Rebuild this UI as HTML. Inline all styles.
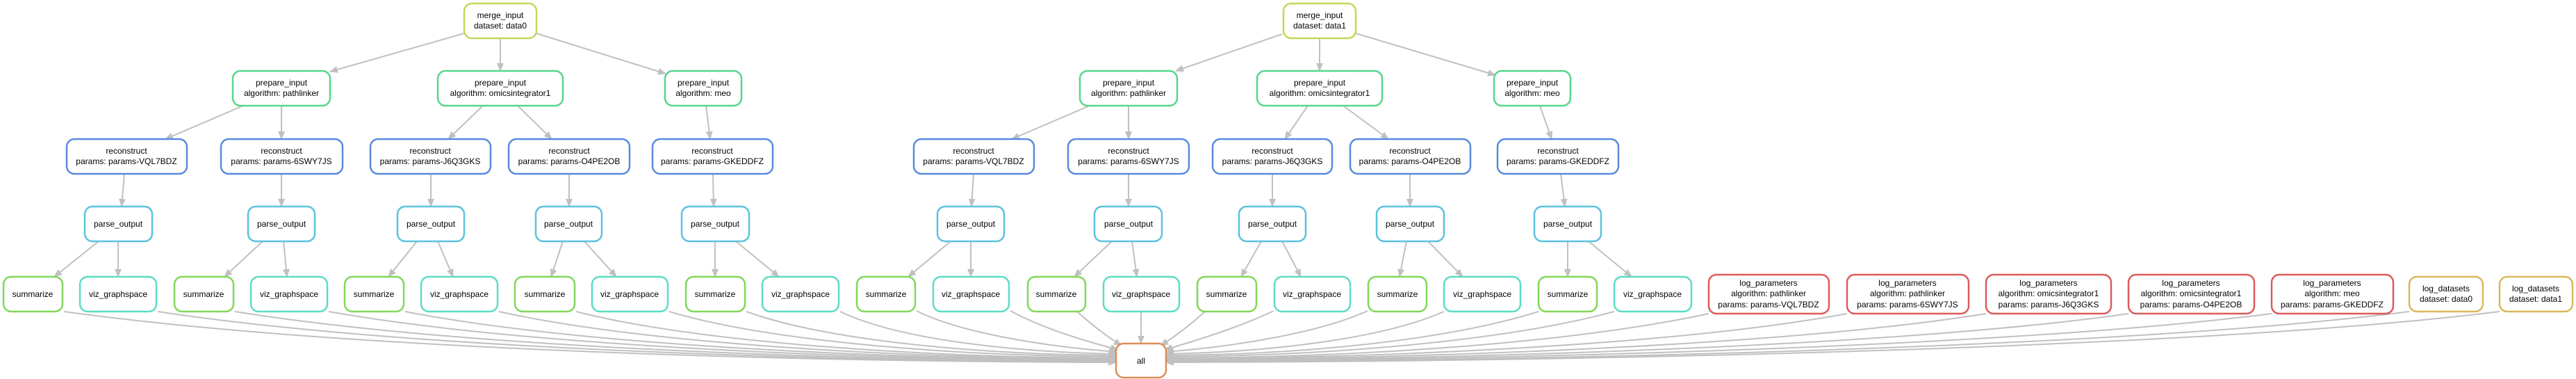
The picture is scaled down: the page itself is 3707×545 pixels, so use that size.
<!DOCTYPE html>
<html><head><meta charset="utf-8"><style>
html,body{margin:0;padding:0;background:#fff;}
svg{display:block}
text{font-family:"Liberation Sans",Arial,sans-serif;font-size:12px;fill:#000;text-anchor:middle}
.n{fill:#fff;stroke-width:2.5}
.e{fill:none;stroke:#c0c0c0;stroke-width:2;marker-end:url(#a)}
.mg{stroke:#c5d65a}.pi{stroke:#57d68a}.rc{stroke:#5a8add}.po{stroke:#5bc2dd}.sm{stroke:#7fd85a}.vz{stroke:#5bdcc6}.lp{stroke:#dd5a5a}.ld{stroke:#d9b85a}.al{stroke:#dd8c57}
</style></head><body>
<svg width="3707" height="545" viewBox="0 0 3707 545" xmlns="http://www.w3.org/2000/svg">
<defs><marker id="a" markerUnits="userSpaceOnUse" markerWidth="12" markerHeight="10" refX="11" refY="5" orient="auto"><path d="M0,0 L12,5 L0,10 z" fill="#c0c0c0"/></marker></defs>
<g>
<!-- tree edges data0 -->
<path class="e" d="M668,48 L475,103"/>
<path class="e" d="M720,55 L720,102"/>
<path class="e" d="M772,48 L958,106"/>
<path class="e" d="M350,152 L238,200"/>
<path class="e" d="M405,152 L405,200"/>
<path class="e" d="M695,152 L645,200"/>
<path class="e" d="M745,152 L794,200"/>
<path class="e" d="M1016,152 L1022,200"/>
<path class="e" d="M179,250 L175,297"/>
<path class="e" d="M405,250 L405,297"/>
<path class="e" d="M620,250 L620,297"/>
<path class="e" d="M819,250 L819,297"/>
<path class="e" d="M1026,250 L1027,297"/>
<path class="e" d="M142,347 L78,398"/>
<path class="e" d="M170,347 L170,398"/>
<path class="e" d="M378,347 L323,398"/>
<path class="e" d="M408,347 L413,398"/>
<path class="e" d="M600,347 L559,398"/>
<path class="e" d="M630,347 L652,398"/>
<path class="e" d="M810,347 L793,398"/>
<path class="e" d="M841,347 L887,398"/>
<path class="e" d="M1029,347 L1029,398"/>
<path class="e" d="M1059,347 L1121,398"/>
<!-- tree edges data1 -->
<path class="e" d="M1845,49 L1692,102"/>
<path class="e" d="M1899,55 L1899,102"/>
<path class="e" d="M1951,48 L2152,108"/>
<path class="e" d="M1568,152 L1456,200"/>
<path class="e" d="M1624,152 L1624,200"/>
<path class="e" d="M1882,152 L1849,200"/>
<path class="e" d="M1933,152 L1998,200"/>
<path class="e" d="M2216,152 L2233,200"/>
<path class="e" d="M1401,250 L1398,297"/>
<path class="e" d="M1624,250 L1624,297"/>
<path class="e" d="M1831,250 L1831,297"/>
<path class="e" d="M2029,250 L2029,297"/>
<path class="e" d="M2246,250 L2252,297"/>
<path class="e" d="M1368,347 L1307,398"/>
<path class="e" d="M1397,347 L1397,398"/>
<path class="e" d="M1600,347 L1546,398"/>
<path class="e" d="M1629,347 L1636,398"/>
<path class="e" d="M1815,347 L1786,398"/>
<path class="e" d="M1845,347 L1872,398"/>
<path class="e" d="M2024,347 L2014,398"/>
<path class="e" d="M2055,347 L2105,398"/>
<path class="e" d="M2256,347 L2256,398"/>
<path class="e" d="M2286,347 L2348,398"/>
<!-- edges to all, left -->
<path class="e" d="M92,448 C470,500 1100,520 1606,521"/>
<path class="e" d="M227,448 C570,500 1150,519 1606,520"/>
<path class="e" d="M338,448 C650,498 1180,518 1606,519"/>
<path class="e" d="M473,448 C750,497 1220,517 1606,518"/>
<path class="e" d="M583,448 C830,496 1260,516 1606,517"/>
<path class="e" d="M718,448 C930,495 1300,515 1606,516"/>
<path class="e" d="M829,448 C1010,494 1340,514 1606,515"/>
<path class="e" d="M963,448 C1110,492 1380,512 1606,513"/>
<path class="e" d="M1074,448 C1190,490 1410,510 1606,511"/>
<path class="e" d="M1209,448 C1290,487 1450,506 1606,509"/>
<path class="e" d="M1319,447 C1380,478 1500,498 1607,506"/>
<path class="e" d="M1454,447 C1500,472 1560,490 1609,503"/>
<path class="e" d="M1550,448 C1570,466 1590,482 1614,497"/>
<path class="e" d="M1642,448 L1642,494"/>
<path class="e" d="M1734,448 C1714,466 1694,482 1670,497"/>
<!-- edges to all, right -->
<path class="e" d="M1833,447 C1780,472 1720,490 1676,503"/>
<path class="e" d="M1968,447 C1900,478 1780,498 1678,506"/>
<path class="e" d="M2078,448 C1990,487 1830,506 1678,509"/>
<path class="e" d="M2214,448 C2080,490 1870,510 1678,511"/>
<path class="e" d="M2323,448 C2160,492 1900,512 1678,513"/>
<path class="e" d="M2459,451 C2260,494 1950,514 1678,515"/>
<path class="e" d="M2658,451 C2420,495 2000,515 1678,516"/>
<path class="e" d="M2858,451 C2580,496 2060,516 1678,517"/>
<path class="e" d="M3063,451 C2740,497 2120,517 1678,518"/>
<path class="e" d="M3269,451 C2900,498 2180,518 1678,519"/>
<path class="e" d="M3467,448 C3060,500 2240,519 1678,520"/>
<path class="e" d="M3597,448 C3180,500 2300,520 1678,521"/>
</g>
<g>
<!-- nodes data0 -->
<rect class="n mg" x="668" y="5" width="104" height="50" rx="11"/><text x="720" y="26">merge_input</text><text x="720" y="41">dataset: data0</text>
<rect class="n pi" x="335" y="102" width="140" height="50" rx="11"/><text x="405" y="123">prepare_input</text><text x="405" y="138">algorithm: pathlinker</text>
<rect class="n pi" x="630" y="102" width="180" height="50" rx="11"/><text x="720" y="123">prepare_input</text><text x="720" y="138">algorithm: omicsintegrator1</text>
<rect class="n pi" x="957" y="102" width="110" height="50" rx="11"/><text x="1012" y="123">prepare_input</text><text x="1012" y="138">algorithm: meo</text>
<rect class="n rc" x="96" y="200" width="173" height="50" rx="11"/><text x="182" y="221">reconstruct</text><text x="182" y="236">params: params-VQL7BDZ</text>
<rect class="n rc" x="318" y="200" width="175" height="50" rx="11"/><text x="405" y="221">reconstruct</text><text x="405" y="236">params: params-6SWY7JS</text>
<rect class="n rc" x="533" y="200" width="173" height="50" rx="11"/><text x="619" y="221">reconstruct</text><text x="619" y="236">params: params-J6Q3GKS</text>
<rect class="n rc" x="732" y="200" width="174" height="50" rx="11"/><text x="819" y="221">reconstruct</text><text x="819" y="236">params: params-O4PE2OB</text>
<rect class="n rc" x="939" y="200" width="173" height="50" rx="11"/><text x="1025" y="221">reconstruct</text><text x="1025" y="236">params: params-GKEDDFZ</text>
<rect class="n po" x="122" y="297" width="97" height="50" rx="11"/><text x="170" y="326">parse_output</text>
<rect class="n po" x="357" y="297" width="96" height="50" rx="11"/><text x="405" y="326">parse_output</text>
<rect class="n po" x="572" y="297" width="96" height="50" rx="11"/><text x="620" y="326">parse_output</text>
<rect class="n po" x="771" y="297" width="95" height="50" rx="11"/><text x="818" y="326">parse_output</text>
<rect class="n po" x="981" y="297" width="97" height="50" rx="11"/><text x="1029" y="326">parse_output</text>
<rect class="n sm" x="5" y="398" width="85" height="50" rx="11"/><text x="47" y="427">summarize</text>
<rect class="n vz" x="115" y="398" width="110" height="50" rx="11"/><text x="170" y="427">viz_graphspace</text>
<rect class="n sm" x="251" y="398" width="85" height="50" rx="11"/><text x="293" y="427">summarize</text>
<rect class="n vz" x="361" y="398" width="110" height="50" rx="11"/><text x="416" y="427">viz_graphspace</text>
<rect class="n sm" x="496" y="398" width="85" height="50" rx="11"/><text x="538" y="427">summarize</text>
<rect class="n vz" x="606" y="398" width="110" height="50" rx="11"/><text x="661" y="427">viz_graphspace</text>
<rect class="n sm" x="741" y="398" width="86" height="50" rx="11"/><text x="784" y="427">summarize</text>
<rect class="n vz" x="852" y="398" width="109" height="50" rx="11"/><text x="906" y="427">viz_graphspace</text>
<rect class="n sm" x="987" y="398" width="85" height="50" rx="11"/><text x="1029" y="427">summarize</text>
<rect class="n vz" x="1097" y="398" width="110" height="50" rx="11"/><text x="1152" y="427">viz_graphspace</text>
<!-- nodes data1 -->
<rect class="n mg" x="1847" y="5" width="104" height="50" rx="11"/><text x="1899" y="26">merge_input</text><text x="1899" y="41">dataset: data1</text>
<rect class="n pi" x="1554" y="102" width="140" height="50" rx="11"/><text x="1624" y="123">prepare_input</text><text x="1624" y="138">algorithm: pathlinker</text>
<rect class="n pi" x="1809" y="102" width="180" height="50" rx="11"/><text x="1899" y="123">prepare_input</text><text x="1899" y="138">algorithm: omicsintegrator1</text>
<rect class="n pi" x="2150" y="102" width="110" height="50" rx="11"/><text x="2205" y="123">prepare_input</text><text x="2205" y="138">algorithm: meo</text>
<rect class="n rc" x="1315" y="200" width="173" height="50" rx="11"/><text x="1401" y="221">reconstruct</text><text x="1401" y="236">params: params-VQL7BDZ</text>
<rect class="n rc" x="1537" y="200" width="174" height="50" rx="11"/><text x="1624" y="221">reconstruct</text><text x="1624" y="236">params: params-6SWY7JS</text>
<rect class="n rc" x="1745" y="200" width="172" height="50" rx="11"/><text x="1831" y="221">reconstruct</text><text x="1831" y="236">params: params-J6Q3GKS</text>
<rect class="n rc" x="1943" y="200" width="173" height="50" rx="11"/><text x="2029" y="221">reconstruct</text><text x="2029" y="236">params: params-O4PE2OB</text>
<rect class="n rc" x="2155" y="200" width="174" height="50" rx="11"/><text x="2242" y="221">reconstruct</text><text x="2242" y="236">params: params-GKEDDFZ</text>
<rect class="n po" x="1349" y="297" width="96" height="50" rx="11"/><text x="1397" y="326">parse_output</text>
<rect class="n po" x="1575" y="297" width="97" height="50" rx="11"/><text x="1624" y="326">parse_output</text>
<rect class="n po" x="1783" y="297" width="96" height="50" rx="11"/><text x="1831" y="326">parse_output</text>
<rect class="n po" x="1981" y="297" width="97" height="50" rx="11"/><text x="2029" y="326">parse_output</text>
<rect class="n po" x="2208" y="297" width="96" height="50" rx="11"/><text x="2256" y="326">parse_output</text>
<rect class="n sm" x="1233" y="398" width="84" height="50" rx="11"/><text x="1275" y="427">summarize</text>
<rect class="n vz" x="1343" y="398" width="109" height="50" rx="11"/><text x="1397" y="427">viz_graphspace</text>
<rect class="n sm" x="1479" y="398" width="83" height="50" rx="11"/><text x="1520" y="427">summarize</text>
<rect class="n vz" x="1588" y="398" width="109" height="50" rx="11"/><text x="1642" y="427">viz_graphspace</text>
<rect class="n sm" x="1723" y="398" width="85" height="50" rx="11"/><text x="1765" y="427">summarize</text>
<rect class="n vz" x="1834" y="398" width="109" height="50" rx="11"/><text x="1888" y="427">viz_graphspace</text>
<rect class="n sm" x="1969" y="398" width="84" height="50" rx="11"/><text x="2011" y="427">summarize</text>
<rect class="n vz" x="2078" y="398" width="110" height="50" rx="11"/><text x="2133" y="427">viz_graphspace</text>
<rect class="n sm" x="2214" y="398" width="84" height="50" rx="11"/><text x="2256" y="427">summarize</text>
<rect class="n vz" x="2323" y="398" width="111" height="50" rx="11"/><text x="2378" y="427">viz_graphspace</text>
<!-- log nodes -->
<rect class="n lp" x="2459" y="395" width="173" height="56" rx="11"/><text x="2545" y="411">log_parameters</text><text x="2545" y="426">algorithm: pathlinker</text><text x="2545" y="442">params: params-VQL7BDZ</text>
<rect class="n lp" x="2658" y="395" width="175" height="56" rx="11"/><text x="2745" y="411">log_parameters</text><text x="2745" y="426">algorithm: pathlinker</text><text x="2745" y="442">params: params-6SWY7JS</text>
<rect class="n lp" x="2858" y="395" width="180" height="56" rx="11"/><text x="2948" y="411">log_parameters</text><text x="2948" y="426">algorithm: omicsintegrator1</text><text x="2948" y="442">params: params-J6Q3GKS</text>
<rect class="n lp" x="3063" y="395" width="181" height="56" rx="11"/><text x="3153" y="411">log_parameters</text><text x="3153" y="426">algorithm: omicsintegrator1</text><text x="3153" y="442">params: params-O4PE2OB</text>
<rect class="n lp" x="3269" y="395" width="175" height="56" rx="11"/><text x="3356" y="411">log_parameters</text><text x="3356" y="426">algorithm: meo</text><text x="3356" y="442">params: params-GKEDDFZ</text>
<rect class="n ld" x="3467" y="398" width="106" height="50" rx="11"/><text x="3520" y="419">log_datasets</text><text x="3520" y="434">dataset: data0</text>
<rect class="n ld" x="3597" y="398" width="105" height="50" rx="11"/><text x="3649" y="419">log_datasets</text><text x="3649" y="434">dataset: data1</text>
<!-- all -->
<rect class="n al" x="1606" y="494" width="72" height="49" rx="11"/><text x="1642" y="523">all</text>
</g>
</svg>
</body></html>
